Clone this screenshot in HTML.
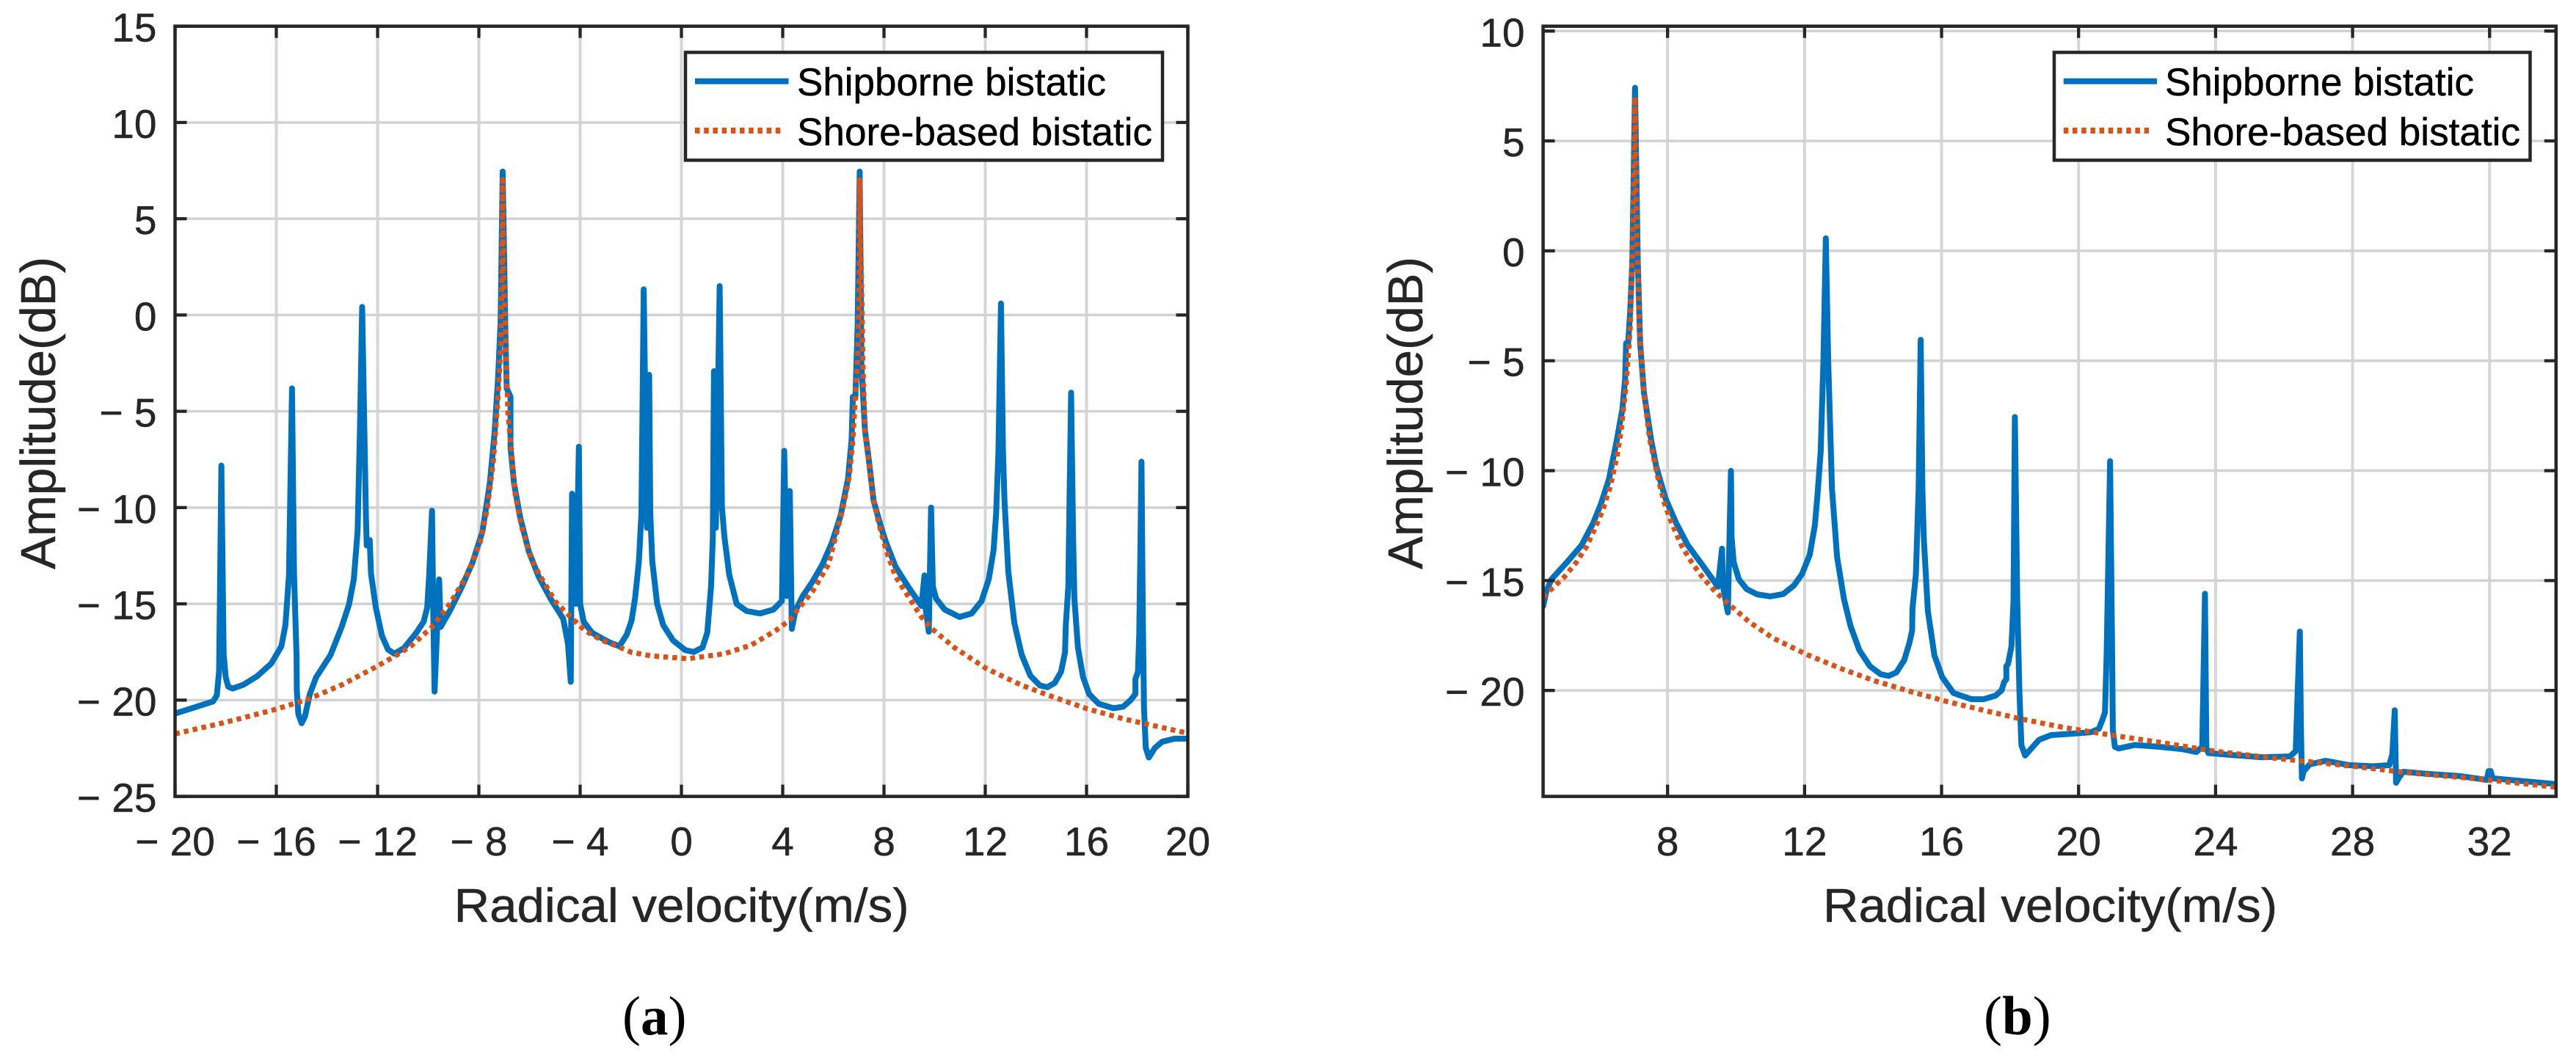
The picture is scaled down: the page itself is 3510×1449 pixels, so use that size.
<!DOCTYPE html>
<html lang="en">
<head>
<meta charset="utf-8">
<title>Shipborne vs shore-based bistatic spectra</title>
<style>
html,body{margin:0;padding:0;background:#fff;width:3510px;height:1449px;overflow:hidden}
svg{display:block}
text{font-family:"Liberation Sans",Arial,sans-serif;fill:#262626;stroke:#262626;stroke-width:.5}
.cap{font-family:"Liberation Serif","Times New Roman",serif;fill:#000;stroke:none}
</style>
</head>
<body>
<svg id="figure" xmlns="http://www.w3.org/2000/svg" width="3510" height="1449" viewBox="0 0 3510 1449">
<rect width="3510" height="1449" fill="#fff"/>
<defs>
<clipPath id="clip-a"><rect x="238.5" y="35.7" width="1380" height="1050"/></clipPath>
<clipPath id="clip-b"><rect x="2102.6" y="35.7" width="1380.2" height="1050"/></clipPath>
</defs>
<g id="panel-a"></g>
<g id="panel-b"></g>
<text class="cap" x="848" y="1410" font-size="75">(<tspan font-weight="bold">a</tspan>)</text>
<text class="cap" x="2703" y="1410" font-size="75">(<tspan font-weight="bold">b</tspan>)</text>
</svg>
<script>
const seriesNames = ["Shipborne bistatic", "Shore-based bistatic"];

const aXTickValues = [-20,-16,-12,-8,-4,0,4,8,12,16,20];
const aXTickLabels = ["\u2212 20","\u2212 16","\u2212 12","\u2212 8","\u2212 4","0","4","8","12","16","20"];
const aYTickValues = [15,10,5,0,-5,-10,-15,-20,-25];
const aYTickLabels = ["15","10","5","0","\u2212 5","\u2212 10","\u2212 15","\u2212 20","\u2212 25"];
const bXTickValues = [8,12,16,20,24,28,32];
const bXTickLabels = ["8","12","16","20","24","28","32"];
const bYTickValues = [10,5,0,-5,-10,-15,-20];
const bYTickLabels = ["10","5","0","\u2212 5","\u2212 10","\u2212 15","\u2212 20"];

const aShipVelocity = [
-20,-18.5,-18.35,-18.26,-18.17,-18.08,-18.0,-17.9,-17.73,-17.3,
-16.75,-16.2,-15.8,-15.64,-15.5,-15.38,-15.3,-15.2,-15.19,
-15.13,-15,-14.87,-14.68,-14.43,-13.86,-13.42,-13.13,-12.94,-12.79,
-12.7,-12.61,-12.52,-12.46,-12.43,-12.31,-12.26,-12.07,-11.83,-11.59,
-11.34,-10.96,-10.47,-10.18,-10.04,-9.96,-9.85,-9.8,-9.75,-9.65,
-9.57,-9.51,-9.12,-8.69,-8.25,-7.86,-7.57,-7.38,-7.24,-7.14,
-7.06,-6.95,-6.9,-6.75,-6.75,-6.61,-6.37,-6.03,-5.64,-5.16,
-4.67,-4.48,-4.37,-4.32,-4.17,-4.05,-4.0,-3.86,-3.53,-3.13,
-2.84,-2.45,-2.16,-1.97,-1.83,-1.68,-1.58,-1.49,-1.36,-1.275,
-1.23,-1.15,-0.96,-0.72,-0.33,0.15,0.49,0.83,1.02,1.17,
1.24,1.285,1.36,1.51,1.6,1.7,1.89,2.18,2.57,3.1,
3.63,3.97,4.06,4.17,4.28,4.36,4.5,4.79,5.18,5.57,
5.95,6.29,6.58,6.72,6.77,6.87,6.96,7.04,7.11,
7.25,7.4,7.59,7.88,8.08,8.46,8.95,9.48,9.6,9.62,
9.77,9.86,9.93,10.06,10.4,10.98,11.46,11.85,12.14,12.33,
12.43,12.52,12.62,12.7,12.76,12.91,13.15,13.44,13.78,14.16,
14.45,14.74,14.99,15.15,15.18,15.28,15.32,15.39,15.47,15.52,
15.66,15.86,16.1,16.48,17.06,17.45,17.74,17.93,17.93,18.03,
18.08,18.12,18.17,18.22,18.27,18.34,18.46,18.7,18.99,19.48,
20];
const aShipAmplitude = [
-20.7,-20.07,-19.75,-18.5,-7.82,-17.6,-18.8,-19.3,-19.4,-19.2,
-18.75,-18.1,-17.2,-16.1,-13.5,-3.81,-13.44,-17.8,-19.5,
-20.72,-21.2,-20.85,-19.7,-18.82,-17.66,-16.2,-15.04,-13.73,-11.24,
-6.13,0.42,-6.13,-10.5,-11.97,-11.69,-13.44,-15.19,-16.65,-17.37,
-17.59,-17.3,-16.5,-15.92,-15.19,-13.44,-10.16,-15.6,-19.56,-16.35,
-13.73,-16.2,-15.3,-14.16,-12.85,-11.25,-8.76,-6.13,-3.23,-0.3,
7.45,-1.04,-3.81,-4.25,-6.88,-8.76,-10.5,-12.27,-13.58,-14.75,
-15.77,-17.07,-19.05,-9.28,-15,-6.84,-15,-15.93,-16.5,-16.8,
-17,-17.2,-16.6,-15.87,-14.7,-12.8,-10.3,1.33,-11.05,-3.11,
-10.3,-12.8,-15,-16.1,-16.9,-17.4,-17.5,-17.27,-16.5,-14.1,
-11.55,-2.92,-11.05,1.5,-10,-11.55,-13.5,-15,-15.37,-15.5,
-15.3,-14.85,-7.05,-14.6,-9.14,-16.3,-15.36,-14.6,-13.84,-12.95,
-11.8,-10.4,-8.5,-6.5,-4.25,-4.3,-0.5,7.45,-2.67,
-6,-7.5,-9.65,-11,-11.81,-13.08,-14.1,-15.11,-13.52,-15,
-16.45,-10,-14.1,-14.73,-15.3,-15.68,-15.5,-14.86,-13.71,-12.19,
-10.29,-7.11,0.6,-7.11,-9.65,-13.33,-16,-17.65,-18.73,-19.24,
-19.33,-19.11,-18.54,-17.52,-16.13,-14.1,-10.29,-4.03,-11.55,-14.73,
-17.27,-18.79,-19.68,-20.19,-20.42,-20.34,-20,-19.68,-18.9,-18.54,
-16.63,-12.82,-7.62,-15.37,-20.44,-22.48,-22.98,-22.48,-22.16,-22,
-22];

const aShoreVelocity = [
-20,-18,-16,-14.7,-13.4,-12.03,-11.25,-10.67,-9.85,-9.13,
-8.44,-7.96,-7.67,-7.43,-7.25,-7.14,-7.08,-7.06,-7.03,-6.95,
-6.9,-6.85,-6.75,-6.56,-6.32,-5.93,-5.5,-4.97,-4.43,-3.8,
-3.13,-2.65,-1.97,-1.2,0.25,1.7,2.76,3.73,4.31,4.5,
5.18,5.81,6.38,6.63,6.77,6.87,6.97,7.01,7.04,7.13,
7.17,7.25,7.35,7.55,7.79,8.08,8.46,8.95,9.48,9.9,
10.78,12.03,13.39,14.5,16,17.54,20];
const aShoreAmplitude = [
-21.75,-21.15,-20.47,-19.93,-19.2,-18.25,-17.66,-17.18,-16.2,-14.97,
-13.44,-11.83,-10.08,-7.6,-4.39,-1.77,2.5,7.02,2.5,-1.04,
-3.23,-5.13,-6.58,-9.35,-10.96,-12.71,-13.73,-14.9,-15.62,-16.4,
-16.9,-17.14,-17.52,-17.7,-17.85,-17.59,-17.14,-16.38,-15.81,-15.45,
-14.35,-12.95,-10.03,-8.38,-6.5,-4.2,-2.03,0.5,7.02,0.5,
-2.67,-6,-7,-9.4,-10.8,-12.2,-13.59,-14.6,-15.68,-16.3,
-17.27,-18.35,-19.2,-19.75,-20.44,-21,-21.72];

const bShipVelocity = [
4.366,4.46,4.61,5.1,5.49,5.83,6.06,6.29,6.52,6.68,
6.76,6.79,6.85,6.91,6.97,7.05,7.13,7.2,7.31,7.52,
7.67,7.94,8.25,8.59,9.01,9.47,9.59,9.62,9.76,9.85,
9.87,9.93,10.08,10.31,10.62,11,11.38,11.69,11.92,12.15,
12.3,12.38,12.47,12.55,12.62,12.69,12.8,12.95,13.15,13.34,
13.6,13.91,14.22,14.45,14.68,14.91,15.06,15.14,15.15,15.25,
15.33,15.39,15.44,15.48,15.6,15.79,16.02,16.35,16.88,17.22,
17.57,17.75,17.83,17.89,17.89,17.94,18.04,18.1,18.14,18.21,
18.27,18.33,18.44,18.62,18.85,19.2,19.78,20.36,20.59,20.69,
20.77,20.82,20.92,20.98,21,21.06,21.17,21.64,22.33,23.03,
23.44,23.61,23.69,23.73,23.79,24.43,25.35,26.17,26.34,26.4,
26.46,26.49,26.52,26.57,26.75,27.21,27.9,28.6,29.07,29.16,
29.23,29.27,29.36,29.48,30.23,31.16,31.92,31.97,32.03,32.09,
32.79,33.94];
const bShipAmplitude = [
-16.17,-15.5,-14.94,-14.1,-13.39,-12.38,-11.49,-10.38,-8.6,-7.2,
-5.84,-4.2,-4.2,-2.7,-0.48,7.42,-0.48,-4.2,-6.44,-8.6,
-9.82,-11.27,-12.38,-13.39,-14.28,-15.28,-13.55,-15.28,-16.45,-10.01,
-13.05,-14.16,-14.94,-15.39,-15.63,-15.72,-15.61,-15.22,-14.72,-13.83,
-12.49,-11.05,-9.15,-5,0.57,-5,-10.82,-13.94,-15.84,-17.06,
-18.17,-18.9,-19.26,-19.34,-19.18,-18.62,-17.84,-17.28,-16.28,-14.72,
-10.82,-4.05,-10.82,-13.05,-16.39,-18.4,-19.4,-20.12,-20.4,-20.4,
-20.24,-20,-19.6,-19.5,-18.9,-18.8,-18,-15.93,-7.56,-15.93,
-19.92,-22.48,-22.96,-22.64,-22.24,-22.03,-21.97,-21.9,-21.75,-21.36,
-21,-18.3,-9.57,-18.3,-21.8,-22.56,-22.64,-22.48,-22.56,-22.67,
-22.8,-22.56,-15.6,-22.6,-22.85,-22.93,-23.04,-23,-22.76,-19.9,
-17.32,-21.5,-24,-23.68,-23.36,-23.2,-23.4,-23.45,-23.4,-22.9,
-20.9,-24.2,-23.95,-23.7,-23.8,-23.9,-24.07,-23.67,-23.67,-24,
-24.1,-24.26];

const bShoreVelocity = [
4.366,4.61,4.99,5.34,5.64,5.87,6.1,6.33,6.52,6.64,
6.79,6.91,6.99,7.05,7.1,7.18,7.31,7.48,7.59,7.71,
7.9,8.09,8.4,8.7,9.01,9.39,9.78,10.39,11.08,12.07,
13.07,14.06,15.14,16.17,17.22,18.27,19.55,20.94,22.33,23.96,
25.82,27.91,29.65,31.97,33.94];
const bShoreAmplitude = [
-15.75,-15.39,-14.83,-14.16,-13.44,-12.66,-11.83,-10.71,-9.38,-8.2,
-6.1,-3.46,1,7,1,-3.46,-6.44,-8.6,-9.38,-10.27,
-11.44,-12.27,-13.39,-14.16,-14.83,-15.5,-16.06,-16.89,-17.62,-18.37,
-19.01,-19.57,-20.07,-20.51,-20.9,-21.28,-21.68,-22.03,-22.35,-22.76,
-23.1,-23.43,-23.75,-24.07,-24.4];

const SVGNS = "http://www.w3.org/2000/svg";
const INK = "#262626";

function scaleLinear(d0, d1, r0, r1) {
  return function (v) { return r0 + (v - d0) * (r1 - r0) / (d1 - d0); };
}
function node(parent, tag, attrs) {
  const el = document.createElementNS(SVGNS, tag);
  for (const k in attrs) el.setAttribute(k, attrs[k]);
  parent.appendChild(el);
  return el;
}
function linePath(xs, ys, sx, sy) {
  const n = Math.min(xs.length, ys.length);
  let d = "";
  for (let i = 0; i < n; i++) {
    d += (i ? "L" : "M") + sx(xs[i]).toFixed(2) + " " + sy(ys[i]).toFixed(2);
  }
  return d;
}

function drawPanel(cfg) {
  const g = document.getElementById(cfg.id);
  const L = cfg.left, R = cfg.right, T = 35.7, B = 1085.6;
  const sx = scaleLinear(cfg.xDomain[0], cfg.xDomain[1], L, R);
  const sy = scaleLinear(cfg.yDomain[0], cfg.yDomain[1], B, T);

  cfg.xTicks.forEach(function (v, i) {
    const p = sx(v);
    const grid = node(g, "line", {x1: p, x2: p, y1: T, y2: B, stroke: "#d6d6d6", "stroke-width": 4});
    
    
  });
  cfg.yTicks.forEach(function (v, i) {
    const p = sy(v);
    const grid = node(g, "line", {x1: L, x2: R, y1: p, y2: p, stroke: "#d2d2d2", "stroke-width": 3.5});
    
    
  });

  const ship = node(g, "path", {d: linePath(cfg.shipX, cfg.shipY, sx, sy), fill: "none", stroke: "#0072BD", "stroke-width": 8, "stroke-linejoin": "round", "stroke-linecap": "round", "clip-path": "url(#" + cfg.clip + ")"});
  
  
  const shore = node(g, "path", {d: linePath(cfg.shoreX, cfg.shoreY, sx, sy), fill: "none", stroke: "#D95319", "stroke-width": 7, "stroke-dasharray": "6.5 5.8", "stroke-linejoin": "round", "clip-path": "url(#" + cfg.clip + ")"});
  
  

  const frame = node(g, "rect", {x: L, y: T, width: R - L, height: B - T, fill: "none", stroke: INK, "stroke-width": 4.5});
  
  

  cfg.xTicks.forEach(function (v, i) {
    const p = sx(v);
    const t1 = node(g, "line", {x1: p, x2: p, y1: B, y2: B - 16, stroke: INK, "stroke-width": 4.3});
    
    
    const t2 = node(g, "line", {x1: p, x2: p, y1: T, y2: T + 16, stroke: INK, "stroke-width": 4.3});
    
    
    const lab = node(g, "text", {x: p, y: 1166, "font-size": 55, "text-anchor": "middle"});
    lab.textContent = cfg.xLabels[i];
    
    
  });
  cfg.yTicks.forEach(function (v, i) {
    const p = sy(v);
    const t1 = node(g, "line", {x1: L, x2: L + 16, y1: p, y2: p, stroke: INK, "stroke-width": 4.3});
    
    
    const t2 = node(g, "line", {x1: R, x2: R - 16, y1: p, y2: p, stroke: INK, "stroke-width": 4.3});
    
    
    const lab = node(g, "text", {x: L - 25, y: p + 21, "font-size": 55, "text-anchor": "end"});
    lab.textContent = cfg.yLabels[i];
    
    
  });

  const xt = node(g, "text", {x: cfg.xTitleX, y: 1256.5, "font-size": 65, textLength: cfg.xTitleW, lengthAdjust: "spacingAndGlyphs"});
  xt.textContent = "Radical velocity(m/s)";
  
  
  const yt = node(g, "text", {transform: "translate(" + cfg.yTitleX + " 776) rotate(-90)", x: 0, y: 0, "font-size": 67, textLength: 426, lengthAdjust: "spacingAndGlyphs"});
  yt.textContent = "Amplitude(dB)";
  
  

  const lg = cfg.legend;
  const box = node(g, "rect", {x: lg.x, y: 71.4, width: lg.w, height: 147, fill: "#fff", stroke: INK, "stroke-width": 4.5});
  
  
  const k1 = node(g, "line", {x1: lg.keyX, x2: lg.keyEnd1, y1: 110.7, y2: 110.7, stroke: "#0072BD", "stroke-width": 8});
  
  
  const k2 = node(g, "line", {x1: lg.keyX, x2: lg.keyEnd2, y1: 178, y2: 178, stroke: "#D95319", "stroke-width": 8, "stroke-dasharray": "6.5 5.7"});
  
  
  const t1 = node(g, "text", {x: lg.textX, y: 130, "font-size": 53, textLength: 421, lengthAdjust: "spacingAndGlyphs", style: "fill:#000;stroke:#000"});
  t1.textContent = seriesNames[0];
  
  
  const t2 = node(g, "text", {x: lg.textX, y: 198, "font-size": 53, textLength: 484, lengthAdjust: "spacingAndGlyphs", style: "fill:#000;stroke:#000"});
  t2.textContent = seriesNames[1];
  
  
}

drawPanel({
  id: "panel-a", clip: "clip-a", left: 238.5, right: 1618.5,
  xDomain: [-20, 20], yDomain: [-25, 15],
  xTicks: aXTickValues, xLabels: aXTickLabels, yTicks: aYTickValues, yLabels: aYTickLabels,
  shipX: aShipVelocity, shipY: aShipAmplitude, shoreX: aShoreVelocity, shoreY: aShoreAmplitude,
  xTitleX: 618.6, xTitleW: 620, yTitleX: 75,
  legend: {x: 934, w: 650, keyX: 947, keyEnd1: 1074.5, keyEnd2: 1068, textX: 1086}
});
drawPanel({
  id: "panel-b", clip: "clip-b", left: 2102.6, right: 3482.8,
  xDomain: [4.366, 33.94], yDomain: [-24.82, 10.22],
  xTicks: bXTickValues, xLabels: bXTickLabels, yTicks: bYTickValues, yLabels: bYTickLabels,
  shipX: bShipVelocity, shipY: bShipAmplitude, shoreX: bShoreVelocity, shoreY: bShoreAmplitude,
  xTitleX: 2484, xTitleW: 619, yTitleX: 1938,
  legend: {x: 2799, w: 648.5, keyX: 2811.8, keyEnd1: 2939, keyEnd2: 2932.6, textX: 2950}
});
</script>
</body>
</html>
